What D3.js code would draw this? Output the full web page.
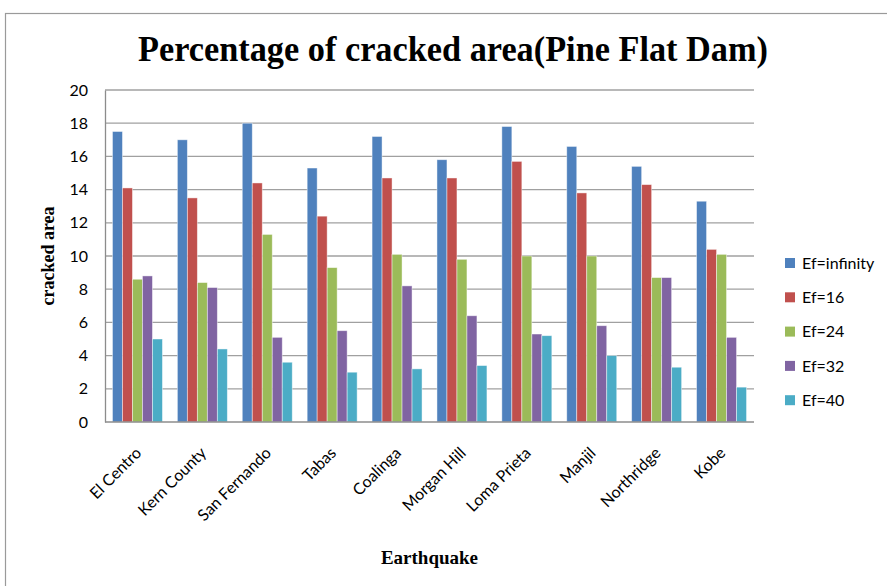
<!DOCTYPE html>
<html>
<head>
<meta charset="utf-8">
<script src="https://cdn.jsdelivr.net/npm/d3@7"></script>
<style>
  html, body { margin: 0; padding: 0; background: #fff; }
  svg { display: block; }
</style>
</head>
<body>
<svg id="chart" width="887" height="586"></svg>
<script>
// Earthquake records analysed
const categories = ["El Centro", "Kern County", "San Fernando", "Tabas", "Coalinga",
                    "Morgan Hill", "Loma Prieta", "Manjil", "Northridge", "Kobe"];

// Series names (fracture energy cases) and their colours
const seriesNames = ["Ef=infinity", "Ef=16", "Ef=24", "Ef=32", "Ef=40"];
const seriesColors = ["#4F81BD", "#C0504D", "#9BBB59", "#8064A2", "#4BACC6"];

// Cracked area (%) per earthquake, one array per series
const efInfinity = [17.5, 17.0, 18.0, 15.3, 17.2, 15.8, 17.8, 16.6, 15.4, 13.3];
const ef16       = [14.1, 13.5, 14.4, 12.4, 14.7, 14.7, 15.7, 13.8, 14.3, 10.4];
const ef24       = [8.6, 8.4, 11.3, 9.3, 10.1, 9.8, 10.0, 10.0, 8.7, 10.1];
const ef32       = [8.8, 8.1, 5.1, 5.5, 8.2, 6.4, 5.3, 5.8, 8.7, 5.1];
const ef40       = [5.0, 4.4, 3.6, 3.0, 3.2, 3.4, 5.2, 4.0, 3.3, 2.1];

const yTicks = [0, 2, 4, 6, 8, 10, 12, 14, 16, 18, 20];

const seriesValues = [efInfinity, ef16, ef24, ef32, ef40];

const svg = d3.select("#chart");
const plot = { left: 105, right: 754, top: 90, bottom: 422 };

// Outer chart frame
svg.append("rect")
  .attr("x", 5.5).attr("y", 13.5)
  .attr("width", 900).attr("height", 600)
  .attr("fill", "none")
  .attr("stroke", "#9a9a9a")
  .attr("stroke-width", 1.2);

// Title
svg.append("text")
  .attr("x", 453).attr("y", 61)
  .attr("text-anchor", "middle")
  .attr("font-family", "'Liberation Serif', 'Times New Roman', serif")
  .attr("font-weight", "bold")
  .attr("font-size", 35)
  .attr("textLength", 630)
  .attr("lengthAdjust", "spacingAndGlyphs")
  .attr("fill", "#000")
  .text("Percentage of cracked area(Pine Flat Dam)");

const x0 = d3.scaleBand()
  .domain(categories)
  .range([plot.left, plot.right])
  .paddingInner(0.23)
  .paddingOuter(0.115);

const x1 = d3.scaleBand()
  .domain(seriesNames)
  .range([0, x0.bandwidth()]);

const y = d3.scaleLinear()
  .domain([0, 20])
  .range([plot.bottom, plot.top]);

// Horizontal gridlines
svg.append("g")
  .selectAll("line")
  .data(yTicks.filter(t => t > 0))
  .join("line")
  .attr("x1", plot.left).attr("x2", plot.right)
  .attr("y1", d => y(d)).attr("y2", d => y(d))
  .attr("stroke", "#a0a0a0")
  .attr("stroke-width", 1.3);

// Y axis
const yAxis = d3.axisLeft(y).tickValues(yTicks).tickSize(0).tickPadding(17);
const yg = svg.append("g")
  .attr("transform", `translate(${plot.left},0)`)
  .call(yAxis);
yg.select(".domain").attr("stroke", "#8c8c8c").attr("stroke-width", 1.3);
yg.selectAll(".tick text")
  .attr("font-family", "Lato, 'Open Sans', sans-serif")
  .attr("font-size", 16)
  .attr("fill", "#000");

// Bars
const groups = svg.append("g")
  .selectAll("g")
  .data(categories)
  .join("g")
  .attr("transform", d => `translate(${x0(d)},0)`);

groups.selectAll("rect")
  .data((d, i) => seriesNames.map((s, j) => ({ series: s, color: seriesColors[j], value: seriesValues[j][i] })))
  .join("rect")
  .attr("x", d => x1(d.series))
  .attr("width", x1.bandwidth())
  .attr("y", d => y(d.value))
  .attr("height", d => y(0) - y(d.value))
  .attr("fill", d => d.color)
  .attr("stroke", "rgba(255,255,255,0.55)")
  .attr("stroke-width", 0.8);

// X axis line
const xg = svg.append("g");
xg.append("line")
  .attr("x1", plot.left).attr("x2", plot.right)
  .attr("y1", plot.bottom).attr("y2", plot.bottom)
  .attr("stroke", "#8c8c8c").attr("stroke-width", 1.3);

// Rotated category labels
xg.selectAll("text")
  .data(categories)
  .join("text")
  .attr("transform", d => `translate(${x0(d) + x0.bandwidth() / 2 + 5},${plot.bottom + 32}) rotate(-45)`)
  .attr("text-anchor", "end")
  .attr("font-family", "Lato, 'Open Sans', sans-serif")
  .attr("font-size", 16)
  .attr("fill", "#000")
  .text(d => d);

// Axis titles
svg.append("text")
  .attr("x", (plot.left + plot.right) / 2).attr("y", 564)
  .attr("text-anchor", "middle")
  .attr("font-family", "'Liberation Serif', 'Times New Roman', serif")
  .attr("font-weight", "bold")
  .attr("font-size", 19)
  .text("Earthquake");

svg.append("text")
  .attr("transform", `translate(54,${(plot.top + plot.bottom) / 2}) rotate(-90)`)
  .attr("text-anchor", "middle")
  .attr("font-family", "'Liberation Serif', 'Times New Roman', serif")
  .attr("font-weight", "bold")
  .attr("font-size", 18)
  .text("cracked area");

// Legend
const legend = svg.append("g")
  .selectAll("g")
  .data(seriesNames)
  .join("g")
  .attr("transform", (d, i) => `translate(785,${263 + i * 34.3})`);
legend.append("rect")
  .attr("x", 0).attr("y", -5)
  .attr("width", 10).attr("height", 10)
  .attr("fill", (d, i) => seriesColors[i]);
legend.append("text")
  .attr("x", 17).attr("y", 0)
  .attr("dy", "0.36em")
  .attr("font-family", "Lato, 'Open Sans', sans-serif")
  .attr("font-size", 16)
  .attr("fill", "#000")
  .text(d => d);
</script>
</body>
</html>
